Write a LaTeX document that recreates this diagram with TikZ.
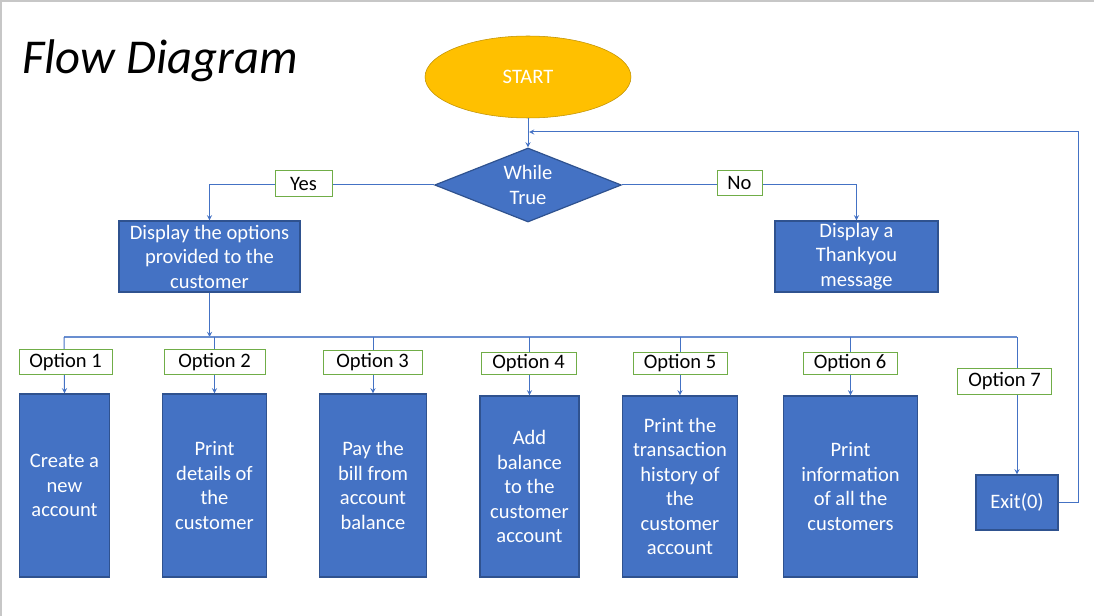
\documentclass[tikz,border=0pt]{standalone}
\usepackage{fontspec}
\setmainfont{Carlito}
\usetikzlibrary{shapes.geometric}
\definecolor{boxblue}{HTML}{4472C4}
\definecolor{boxedge}{HTML}{2F528F}
\definecolor{startgold}{HTML}{FFC000}
\definecolor{startedge}{HTML}{BF9000}
\definecolor{labelgreen}{HTML}{70AD47}
\tikzset{
  bodyfont/.style={font=\fontsize{15.4}{18.4}\selectfont},
  procbox/.style={draw=boxedge, fill=boxblue, text=white, align=center, inner sep=0pt, line width=0.9pt, bodyfont},
  optlabel/.style={draw=labelgreen, fill=white, inner sep=0pt, minimum height=19pt, line width=0.75pt, bodyfont},
  flowline/.style={draw=boxblue, line width=0.75pt},
  >=stealth
}
\begin{document}
\begin{tikzpicture}[x=0.75pt,y=-0.75pt]
        \useasboundingbox (0,0) rectangle (1094,616);
        \draw[black!22, line width=1.2pt] (1,616) -- (1,1) -- (1094,1);
        \node[anchor=base west, inner sep=0pt, font=\fontsize{36.5}{44}\selectfont\itshape] (title) at (22,74) {Flow Diagram};
        \node[ellipse, draw=startedge, fill=startgold, text=white, minimum width=154.5pt, minimum height=61.5pt, bodyfont] (start) at (528,77) {START};
        \node[diamond, aspect=2.6, draw=boxedge, fill=boxblue, text=white, align=center, inner sep=0pt, minimum width=140pt, minimum height=55.5pt, line width=0.9pt, font=\fontsize{15.4}{18.6}\selectfont] (loop) at (528,185) {While\\True};
        \node[procbox, minimum width=135.75pt, minimum height=53.25pt] (options) at (209.5,256.5) {Display the options\\provided to the\\customer};
        \node[procbox, minimum width=122.25pt, minimum height=53.25pt] (thanks) at (856.5,256.5) {Display a\\Thankyou\\message};
        \node[procbox, minimum width=67.5pt, minimum height=137.25pt] (create) at (64.5,485.5) {Create a\\new\\account};
        \node[procbox, minimum width=78pt, minimum height=137.25pt] (details) at (214.5,485.5) {Print\\details of\\the\\customer};
        \node[procbox, minimum width=80.25pt, minimum height=137.25pt] (paybill) at (373,485.5) {Pay the\\bill from\\account\\balance};
        \node[procbox, minimum width=74.25pt, minimum height=135.75pt] (addbal) at (529.5,486.5) {Add\\balance\\to the\\customer\\account};
        \node[procbox, minimum width=86.25pt, minimum height=135.75pt] (history) at (680,486.5) {Print the\\transaction\\history of\\the\\customer\\account};
        \node[procbox, minimum width=100.5pt, minimum height=135.75pt] (allinfo) at (850.5,486.5) {Print\\information\\of all the\\customers};
        \node[procbox, minimum width=61.5pt, minimum height=41.25pt] (exit) at (1017,502.5) {Exit(0)};
        \coordinate (busL) at (64,337);
        \coordinate (busR) at (1017,337);
        \coordinate (loopin) at (529,132);
        \coordinate (backR) at (1078,132);
        \draw[flowline,->] (start) -- (loop);
        \draw[flowline,->] (loop.west) -| (options.north);
        \draw[flowline,->] (loop.east) -| (thanks.north);
        \draw[flowline,->] (options.south) -- (options.south |- busL);
        \draw[flowline, line width=1.1pt, draw=boxblue!80] (busL) -- (busR);
        \draw[flowline,->] (busL) -- (create.north);
        \draw[flowline,->] (details |- busL) -- (details.north);
        \draw[flowline,->] (paybill |- busL) -- (paybill.north);
        \draw[flowline,->] (addbal |- busL) -- (addbal.north);
        \draw[flowline,->] (history |- busL) -- (history.north);
        \draw[flowline,->] (allinfo |- busL) -- (allinfo.north);
        \draw[flowline,->] (busR) -- (exit.north);
        \draw[flowline,->] (exit.east) -| (backR) -- (loopin);
        \node[optlabel, minimum width=42.75pt] (yes) at (303.5,183.5) {Yes};
        \node[optlabel, minimum width=33.75pt] (no) at (739.5,183) {No};
        \node[optlabel, minimum width=69.75pt] (opt1) at (65.5,362) {Option 1};
        \node[optlabel, minimum width=75.75pt] (opt2) at (214.5,362) {Option 2};
        \node[optlabel, minimum width=74.25pt, minimum height=18pt] (opt3) at (372.5,362) {Option 3};
        \node[optlabel, minimum width=71.25pt, minimum height=16pt] (opt4) at (528.5,363.5) {Option 4};
        \node[optlabel, minimum width=70.5pt, minimum height=17pt] (opt5) at (680,363.5) {Option 5};
        \node[optlabel, minimum width=70.5pt, minimum height=17pt] (opt6) at (850,363.5) {Option 6};
        \node[optlabel, minimum width=70.5pt] (opt7) at (1004.5,381.5) {Option 7};
    \end{tikzpicture}
\end{document}
